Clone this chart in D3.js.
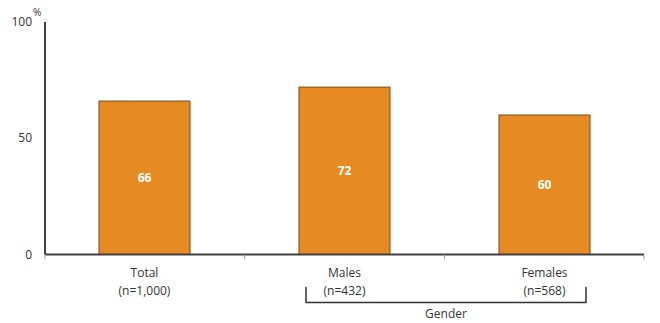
<!DOCTYPE html>
<html><head><meta charset="utf-8">
<script src="https://cdn.jsdelivr.net/npm/d3@7"></script>
<style>body{margin:0;background:#fff}text{font-family:"Open Sans","Liberation Sans",sans-serif}</style>
</head><body><svg id="c" width="660" height="323"></svg>
<script>
const categories = ["Total", "Males", "Females"];
const sampleSizes = ["(n=1,000)", "(n=432)", "(n=568)"];
const values = [66, 72, 60];
const yTicks = [0, 50, 100];
const groupLabel = "Gender";

const svg = d3.select("#c");
const x = d3.scaleBand().domain(categories).range([45, 644]).paddingInner(0.545).paddingOuter(0.27);
const y = d3.scaleLinear().domain([0, 100]).range([254.5, 22]);

// bars
svg.selectAll("rect.bar").data(values).enter().append("rect")
  .attr("x", (d,i)=>x(categories[i])).attr("width", x.bandwidth())
  .attr("y", d=>y(d)).attr("height", d=>y(0)-y(d))
  .attr("fill", "#E68A23").attr("stroke", "#7a4a14").attr("stroke-width", 1);

svg.selectAll("text.val").data(values).enter().append("text")
  .attr("x", (d,i)=>x(categories[i])+x.bandwidth()/2)
  .attr("y", d=>(y(d)+y(0))/2+4)
  .attr("text-anchor","middle").attr("fill","#fff").attr("font-size",12).attr("font-weight","bold")
  .text(d=>d);

// y axis
svg.append("line").attr("x1",45).attr("x2",45).attr("y1",y(100)).attr("y2",y(0)).attr("stroke","#404040").attr("stroke-width",2);
svg.selectAll("text.yt").data(yTicks).enter().append("text")
  .attr("x",32).attr("y",d=>y(d)+4).attr("text-anchor","end").attr("font-size",12).attr("fill","#333")
  .text(d=>d);
svg.append("text").attr("x",33).attr("y",16).attr("font-size",10).attr("fill","#333").text("%");

// x axis
svg.append("line").attr("x1",45).attr("x2",644).attr("y1",y(0)).attr("y2",y(0)).attr("stroke","#404040").attr("stroke-width",2);
const step = (644-45)/categories.length;
const tickXs = d3.range(categories.length+1).map(i=>45+i*step);
svg.selectAll("line.xt").data(tickXs).enter().append("line")
  .attr("x1",d=>d).attr("x2",d=>d).attr("y1",y(0)).attr("y2",y(0)+5).attr("stroke","#999").attr("stroke-width",1);

svg.selectAll("text.cat").data(categories).enter().append("text")
  .attr("x",d=>x(d)+x.bandwidth()/2).attr("y",277).attr("text-anchor","middle").attr("font-size",12).attr("fill","#333")
  .text(d=>d);
svg.selectAll("text.n").data(sampleSizes).enter().append("text")
  .attr("x",(d,i)=>x(categories[i])+x.bandwidth()/2).attr("y",295).attr("text-anchor","middle").attr("font-size",12).attr("fill","#333")
  .text(d=>d);

// group bracket
const bx1 = x("Males")+7, bx2 = x("Females")+x.bandwidth()-4;
svg.append("path").attr("d",`M${bx1},287V302.5H${bx2}V287`).attr("fill","none").attr("stroke","#333").attr("stroke-width",1.5);
svg.append("text").attr("x",(bx1+bx2)/2).attr("y",318).attr("text-anchor","middle").attr("font-size",12).attr("fill","#333").text(groupLabel);
</script></body></html>
